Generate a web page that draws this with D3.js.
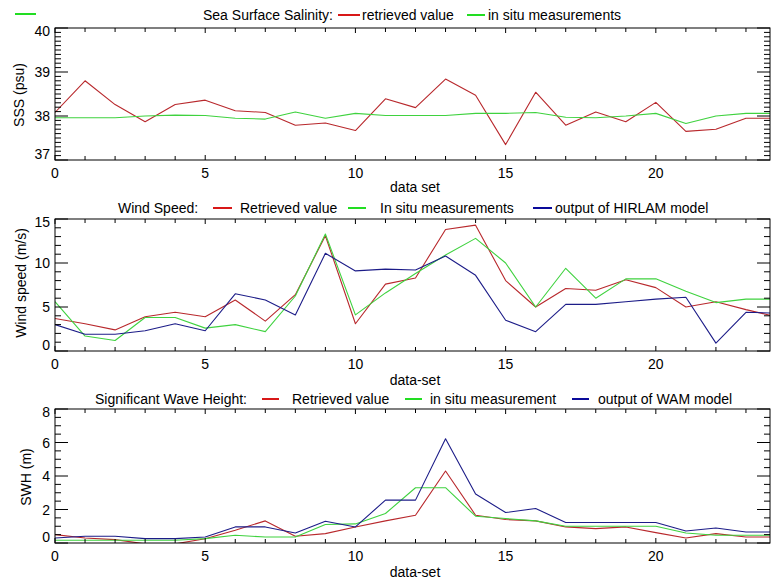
<!DOCTYPE html>
<html>
<head>
<meta charset="utf-8">
<script src="https://cdn.jsdelivr.net/npm/d3@7"></script>
<style>
  body { margin: 0; background: #fff; }
  svg { display: block; font-family: "Liberation Sans", Arial, sans-serif; }
</style>
</head>
<body>
<svg id="chart" width="771" height="580"></svg>
<script>
// ---------------- data ----------------
const dataSet = [0,1,2,3,4,5,6,7,8,9,10,11,12,13,14,15,16,17,18,19,20,21,22,23,24];
const xTicks = [0,5,10,15,20];

const sssRetrieved = [38.08,38.80,38.26,37.87,38.26,38.36,38.12,38.08,37.79,37.84,37.67,38.39,38.19,38.84,38.47,37.35,38.54,37.79,38.09,37.87,38.31,37.65,37.70,37.95,37.95];
const sssInSitu    = [37.96,37.96,37.96,38.00,38.02,38.01,37.95,37.93,38.09,37.95,38.06,38.01,38.01,38.01,38.06,38.06,38.08,37.97,37.96,38.00,38.06,37.83,38.00,38.06,38.06];
const sssTicks = [37,38,39,40];

const windRetrieved = [3.7,3.1,2.4,3.9,4.4,3.9,5.8,3.4,6.4,13.1,3.1,7.6,8.3,13.8,14.3,8.0,5.0,7.1,6.9,8.1,7.2,5.0,5.6,4.7,3.9];
const windInSitu    = [5.6,1.7,1.2,3.8,3.8,2.6,3.0,2.2,6.25,13.3,4.1,6.6,8.8,10.9,12.8,10.0,5.0,9.4,6.0,8.2,8.2,6.8,5.5,5.9,5.9];
const windHirlam    = [3.0,1.9,1.9,2.3,3.1,2.3,6.5,5.8,4.1,11.1,9.1,9.3,9.2,10.8,8.6,3.5,2.2,5.3,5.3,5.6,5.9,6.1,0.9,4.4,4.3];
const windTicks = [0,5,10,15];

const swhRetrieved = [0.5,0.3,0.2,-0.05,-0.05,0.25,0.76,1.32,0.4,0.56,0.96,1.32,1.66,4.3,1.66,1.4,1.32,0.96,0.86,0.96,0.62,0.3,0.56,0.36,0.36];
const swhInSitu    = [0.16,0.16,0.16,0.16,0.16,0.26,0.46,0.36,0.36,1.1,1.14,1.76,3.3,3.3,1.6,1.46,1.32,1.0,1.0,1.0,1.0,0.6,0.46,0.46,0.46];
const swhWam       = [0.3,0.4,0.4,0.26,0.26,0.36,0.96,0.96,0.6,1.3,0.96,2.56,2.56,6.22,2.92,1.82,2.06,1.22,1.22,1.22,1.22,0.72,0.9,0.66,0.66];
const swhTicks = [0,2,4,6,8];

// ---------------- styles ----------------
const RED = "#b8282c", GREEN = "#3fd23f", BLUE = "#1c1c88";
const LRED = "#d81818", LGREEN = "#22dd22", LBLUE = "#0a0a9a";
const FS = 14;

const svg = d3.select("#chart");
const left = 55, right = 770;
const x = d3.scaleLinear().domain([0, 23.8]).range([left, right]);

const panels = [
  { id: "p1", top: 28, bottom: 160, domain: [37, 40], ticks: sssTicks, minor: 0.1,
    ylabel: "SSS (psu)", ylabelY: 95, ylabelX: 19, xlabel: "data set", xlabelY: 192,
    title: { text: "Sea Surface Salinity:", x: 203, y: 20 },
    series: [ { v: sssRetrieved, c: RED }, { v: sssInSitu, c: GREEN } ],
    legend: [ { x1: 338, x2: 360, c: LRED, t: "retrieved value", tx: 362 },
              { x1: 467, x2: 485, c: LGREEN, t: "in situ measurements", tx: 488 } ] },
  { id: "p2", top: 219, bottom: 351, domain: [0, 15], ticks: windTicks, minor: 1,
    ylabel: "Wind speed (m/s)", ylabelY: 283, ylabelX: 21, xlabel: "data-set", xlabelY: 385,
    title: { text: "Wind Speed:", x: 118, y: 213 },
    series: [ { v: windRetrieved, c: RED }, { v: windInSitu, c: GREEN }, { v: windHirlam, c: BLUE } ],
    legend: [ { x1: 213, x2: 232, c: LRED, t: "Retrieved value", tx: 240 },
              { x1: 348, x2: 366, c: LGREEN, t: "In situ measurements", tx: 380 },
              { x1: 533, x2: 552, c: LBLUE, t: "output of HIRLAM model", tx: 555 } ] },
  { id: "p3", top: 409, bottom: 543, domain: [0, 8], ticks: swhTicks, minor: 0.5,
    ylabel: "SWH (m)", ylabelY: 477, ylabelX: 26, xlabel: "data-set", xlabelY: 577,
    title: { text: "Significant Wave Height:", x: 95, y: 404 },
    series: [ { v: swhRetrieved, c: RED }, { v: swhInSitu, c: GREEN }, { v: swhWam, c: BLUE } ],
    legend: [ { x1: 262, x2: 279, c: LRED, t: "Retrieved value", tx: 292 },
              { x1: 405, x2: 422, c: LGREEN, t: "in situ measurement", tx: 430 },
              { x1: 572, x2: 589, c: LBLUE, t: "output of WAM model", tx: 598 } ] }
];

// stray legend sample at top-left
svg.append("line").attr("x1", 15).attr("x2", 36).attr("y1", 14).attr("y2", 14)
  .attr("stroke", LGREEN).attr("stroke-width", 2);

panels.forEach(p => {
  const y = d3.scaleLinear().domain(p.domain).range([p.bottom, p.top]);
  const g = svg.append("g");

  g.append("clipPath").attr("id", "clip-" + p.id).append("rect")
    .attr("x", left).attr("y", p.top).attr("width", right - left).attr("height", p.bottom - p.top);

  const line = d3.line().x((d, i) => x(dataSet[i])).y(d => y(d));
  const plot = g.append("g").attr("clip-path", "url(#clip-" + p.id + ")");
  p.series.forEach(s => {
    plot.append("path").datum(s.v).attr("d", line)
      .attr("fill", "none").attr("stroke", s.c).attr("stroke-width", 1.1)
      .attr("stroke-linejoin", "round");
  });

  g.append("rect").attr("x", left).attr("y", p.top).attr("width", right - left)
    .attr("height", p.bottom - p.top).attr("fill", "none").attr("stroke", "#000").attr("stroke-width", 1);

  const xt = d3.range(0, 24, 1);
  xt.forEach(t => {
    const len = (t % 5 === 0) ? 5 : 4;
    g.append("line").attr("x1", x(t)).attr("x2", x(t)).attr("y1", p.bottom).attr("y2", p.bottom - len)
      .attr("stroke", "#000");
    g.append("line").attr("x1", x(t)).attr("x2", x(t)).attr("y1", p.top).attr("y2", p.top + len)
      .attr("stroke", "#000");
  });
  g.selectAll(".xl").data(xTicks).enter().append("text")
    .attr("x", d => x(d)).attr("y", p.bottom + 18).attr("text-anchor", "middle")
    .attr("font-size", FS).text(d => d);

  const [d0, d1] = p.domain;
  const nMinor = Math.round((d1 - d0) / p.minor);
  for (let k = 0; k <= nMinor; k++) {
    const v = d0 + k * p.minor;
    const isMajor = p.ticks.some(t => Math.abs(t - v) < 1e-6);
    const len = isMajor ? 13 : 6;
    g.append("line").attr("x1", left).attr("x2", left + len).attr("y1", y(v)).attr("y2", y(v)).attr("stroke", "#000");
    g.append("line").attr("x1", right).attr("x2", right - len).attr("y1", y(v)).attr("y2", y(v)).attr("stroke", "#000");
  }
  g.selectAll(".yl").data(p.ticks).enter().append("text")
    .attr("x", 50).attr("text-anchor", "end").attr("font-size", FS)
    .attr("y", d => Math.max(p.top + 3, Math.min(p.bottom - 6, y(d))) + 5)
    .text(d => d);

  g.append("text").attr("transform", `translate(${p.ylabelX},${p.ylabelY}) rotate(-90)`)
    .attr("text-anchor", "middle").attr("dy", "0.35em").attr("font-size", FS).text(p.ylabel);

  g.append("text").attr("x", 415).attr("y", p.xlabelY).attr("text-anchor", "middle")
    .attr("font-size", FS).text(p.xlabel);

  g.append("text").attr("x", p.title.x).attr("y", p.title.y).attr("font-size", FS).text(p.title.text);
  p.legend.forEach(l => {
    const ly = p.title.y - 5;
    g.append("line").attr("x1", l.x1).attr("x2", l.x2).attr("y1", ly).attr("y2", ly)
      .attr("stroke", l.c).attr("stroke-width", 2);
    g.append("text").attr("x", l.tx).attr("y", p.title.y).attr("font-size", FS).text(l.t);
  });
});
</script>
</body>
</html>
